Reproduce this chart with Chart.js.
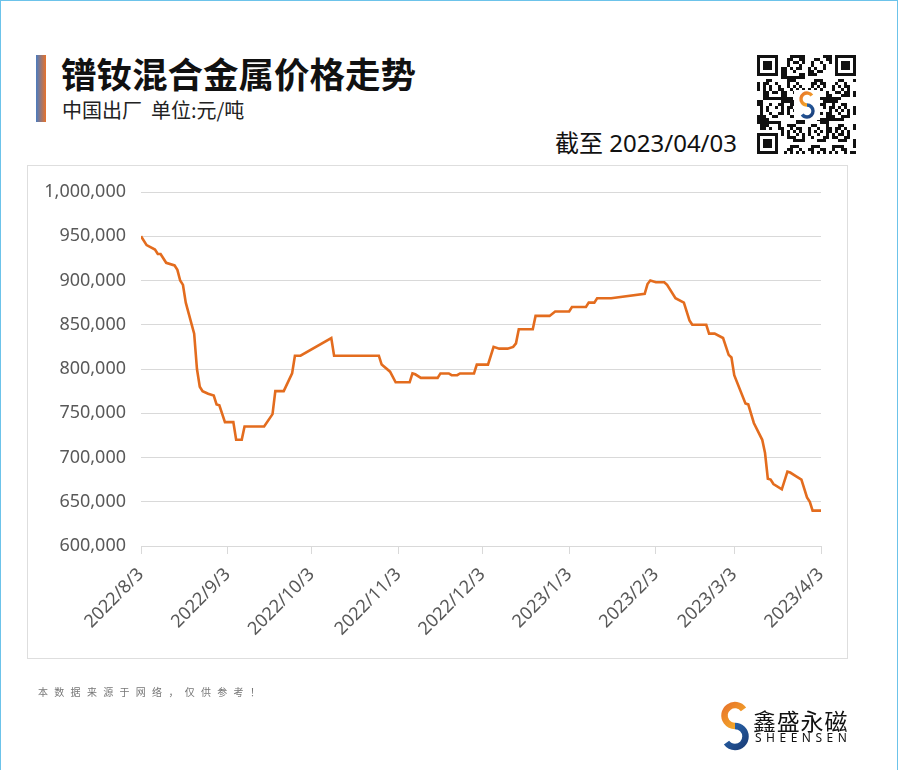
<!DOCTYPE html>
<html>
<head>
<meta charset="utf-8">
<script src="https://cdn.jsdelivr.net/npm/chart.js@4.4.0/dist/chart.umd.min.js"></script>
<style>
  html, body { margin: 0; padding: 0; background: #fff; }
  body { width: 900px; height: 770px; position: relative; overflow: hidden;
         font-family: "Noto Sans", "Noto Sans CJK SC", sans-serif; }
  .frame { position: absolute; left: 0; top: 0; width: 896px; height: 780px;
           border: 1px solid #6cc3ea; border-bottom: none; }
  .bar { position: absolute; left: 36px; top: 55px; width: 10px; height: 67px;
         background: linear-gradient(to right, #4a7cc0, #e8722a); }
  .title { position: absolute; left: 61px; top: 47px; font-size: 35.5px; font-weight: bold;
           font-family: "Noto Sans CJK SC", sans-serif; color: #111; white-space: nowrap; }
  .sub { position: absolute; left: 62px; top: 95px; font-size: 20px; color: #222;
         font-family: "Noto Sans CJK SC", sans-serif; white-space: nowrap; }
  .asof { position: absolute; right: 163px; top: 124px; font-size: 24px; color: #111; white-space: nowrap; }
  .box { position: absolute; left: 27px; top: 165px; width: 819px; height: 492px;
         border: 1px solid #dedede; }
  #chart { position: absolute; left: 0; top: 0; }
  #qr { position: absolute; left: 757px; top: 55px; }
  #logo { position: absolute; left: 718px; top: 701px; }
  .note { position: absolute; left: 38px; top: 684px; font-size: 10px; color: #777;
          letter-spacing: 6.3px; font-family: "Noto Sans CJK SC", sans-serif; white-space: nowrap; }
  .brand { position: absolute; left: 753px; top: 703px; font-size: 23px; color: #111;
           font-family: "Noto Sans CJK SC", sans-serif; white-space: nowrap; letter-spacing: 0.8px; }
  .brand-en { position: absolute; left: 755px; top: 729px; font-size: 12px; color: #111;
              letter-spacing: 4.5px; white-space: nowrap; }
</style>
</head>
<body>
<div class="frame"></div>
<div class="bar"></div>
<div class="title">镨钕混合金属价格走势</div>
<div class="sub">中国出厂&nbsp; 单位:元/吨</div>
<div class="asof">截至 2023/04/03</div>
<div class="box"></div>
<canvas id="chart" width="900" height="770"></canvas>
<canvas id="qr" width="100" height="100"></canvas>
<canvas id="logo" width="34" height="50"></canvas>
<div class="note">本数据来源于网络，仅供参考！</div>
<div class="brand">鑫盛永磁</div>
<div class="brand-en">SHEENSEN</div>
<script>
// 数据：日期与价格（元/吨）
const dates = [
  '2022-08-03','2022-08-05','2022-08-08','2022-08-09','2022-08-10','2022-08-12','2022-08-15','2022-08-16',
  '2022-08-17','2022-08-18','2022-08-19','2022-08-22','2022-08-23','2022-08-24','2022-08-25','2022-08-27',
  '2022-08-29','2022-08-30','2022-08-31',
  '2022-09-02','2022-09-05','2022-09-06','2022-09-08','2022-09-09','2022-09-16','2022-09-19','2022-09-20',
  '2022-09-23','2022-09-26','2022-09-27','2022-09-29',
  '2022-10-10','2022-10-11','2022-10-27','2022-10-28','2022-10-31',
  '2022-11-02','2022-11-07','2022-11-08','2022-11-09','2022-11-11','2022-11-17','2022-11-18','2022-11-21',
  '2022-11-22','2022-11-24','2022-11-25','2022-11-30',
  '2022-12-01','2022-12-05','2022-12-07','2022-12-09','2022-12-12','2022-12-14','2022-12-15','2022-12-16',
  '2022-12-21','2022-12-22','2022-12-27','2022-12-29',
  '2023-01-03','2023-01-04','2023-01-09','2023-01-10','2023-01-12','2023-01-13','2023-01-18','2023-01-30',
  '2023-01-31',
  '2023-02-01','2023-02-03','2023-02-06','2023-02-07','2023-02-10','2023-02-13','2023-02-15','2023-02-16',
  '2023-02-21','2023-02-22','2023-02-24','2023-02-27',
  '2023-03-01','2023-03-02','2023-03-03','2023-03-07','2023-03-08','2023-03-10','2023-03-13','2023-03-14',
  '2023-03-15','2023-03-16','2023-03-17','2023-03-20','2023-03-22','2023-03-23','2023-03-25','2023-03-27',
  '2023-03-29','2023-03-30','2023-03-31','2023-04-03'
];
const prices = [
  950000, 940000, 935000, 930000, 930000, 920000, 917000, 912000,
  900000, 895000, 875000, 840000, 800000, 780000, 775000, 772000,
  770000, 760000, 759000,
  740000, 740000, 720000, 720000, 735000, 735000, 749000, 775000,
  775000, 795000, 815000, 815000,
  835000, 815000, 815000, 805000, 797000,
  785000, 785000, 795000, 794000, 790000, 790000, 795000, 795000,
  793000, 793000, 795000, 795000,
  805000, 805000, 825000, 823000, 823000, 825000, 829000, 845000,
  845000, 860000, 860000, 865000,
  865000, 870000, 870000, 875000, 875000, 880000, 880000, 885000,
  896000,
  900000, 898000, 898000, 895000, 880000, 875000, 855000, 850000,
  850000, 840000, 840000, 835000,
  816000, 813000, 793000, 761000, 760000, 739000, 720000, 705000,
  676000, 675000, 670000, 664000, 684000, 683000, 679000, 675000,
  655000, 650000, 640000, 640000
];
const tickDates = ['2022-08-03','2022-09-03','2022-10-03','2022-11-03','2022-12-03',
                   '2023-01-03','2023-02-03','2023-03-03','2023-04-03'];
const tickLabels = ['2022/8/3','2022/9/3','2022/10/3','2022/11/3','2022/12/3',
                    '2023/1/3','2023/2/3','2023/3/3','2023/4/3'];
const yMin = 600000, yMax = 1000000, yStep = 50000;

const DAY = 86400000;
const t0 = Date.parse(dates[0] + 'T00:00:00Z');
const dayOf = d => Math.round((Date.parse(d + 'T00:00:00Z') - t0) / DAY);
const tickDays = tickDates.map(dayOf);

const points = dates.map((d, i) => ({ x: dayOf(d), y: prices[i] }));

const axisColor = '#595959';
const gridColor = '#d9d9d9';

new Chart(document.getElementById('chart').getContext('2d'), {
  type: 'line',
  data: {
    datasets: [{
      data: points,
      borderColor: '#e36c1e',
      borderWidth: 2.6,
      pointRadius: 0,
      tension: 0,
      fill: false
    }]
  },
  options: {
    responsive: false,
    animation: false,
    layout: { padding: { left: 0, right: 79, top: 192, bottom: 0 } },
    plugins: { legend: { display: false }, tooltip: { enabled: false } },
    scales: {
      x: {
        type: 'linear',
        min: tickDays[0],
        max: tickDays[tickDays.length - 1],
        afterBuildTicks: s => { s.ticks = tickDays.map(v => ({ value: v })); },
        afterFit: s => { s.height = 224; },
        grid: { drawOnChartArea: false, drawTicks: true, tickLength: 8, color: gridColor },
        border: { color: gridColor, width: 1 },
        ticks: {
          autoSkip: false,
          minRotation: 45,
          maxRotation: 45,
          padding: 10,
          color: axisColor,
          font: { family: '"Noto Sans", sans-serif', size: 18 },
          callback: v => { const i = tickDays.indexOf(v); return i >= 0 ? tickLabels[i] : ''; }
        }
      },
      y: {
        min: yMin,
        max: yMax,
        afterFit: s => { s.width = 141; },
        grid: { color: gridColor, drawTicks: false, lineWidth: 1 },
        border: { display: false },
        ticks: {
          stepSize: yStep,
          padding: 15,
          color: axisColor,
          font: { family: '"Noto Sans", sans-serif', size: 18 },
          callback: v => v.toLocaleString('en-US')
        }
      }
    }
  }
});

// S 形标志
function drawS(ctx, cx, cy, r, w) {
  ctx.lineCap = 'butt';
  ctx.lineWidth = w;
  const g1 = ctx.createLinearGradient(cx - r, cy - 2 * r, cx + r, cy);
  g1.addColorStop(0, '#e8762a');
  g1.addColorStop(1, '#f6b42a');
  ctx.strokeStyle = g1;
  ctx.beginPath();
  ctx.arc(cx, cy - r, r, -0.2 * Math.PI, 0.5 * Math.PI, true);
  ctx.stroke();
  const g2 = ctx.createLinearGradient(cx - r, cy, cx + r, cy + 2 * r);
  g2.addColorStop(0, '#2a68b0');
  g2.addColorStop(1, '#1b3f7a');
  ctx.strokeStyle = g2;
  ctx.beginPath();
  ctx.arc(cx, cy + r, r, -0.5 * Math.PI, 0.8 * Math.PI, false);
  ctx.stroke();
}

const lg = document.getElementById('logo').getContext('2d');
drawS(lg, 17, 25, 10.5, 6.5);

// 二维码装饰
const qc = document.getElementById('qr').getContext('2d');
const N = 33, m = 3;
qc.fillStyle = '#fff';
qc.fillRect(0, 0, 100, 100);
qc.fillStyle = '#111';
function finder(x, y) {
  qc.fillRect(x * m, y * m, 7 * m, 7 * m);
  qc.fillStyle = '#fff';
  qc.fillRect((x + 1) * m, (y + 1) * m, 5 * m, 5 * m);
  qc.fillStyle = '#111';
  qc.fillRect((x + 2) * m, (y + 2) * m, 3 * m, 3 * m);
}
const inFinder = (i, j) => (i < 8 && j < 8) || (i > N - 9 && j < 8) || (i < 8 && j > N - 9);
for (let i = 0; i < N; i++) {
  for (let j = 0; j < N; j++) {
    if (inFinder(i, j)) continue;
    const h = (i * 31 + j * 17 + i * j * 7 + (i ^ j) * 3) % 11;
    if (h < 5) qc.fillRect(i * m, j * m, m, m);
  }
}
finder(0, 0); finder(N - 7, 0); finder(0, N - 7);
qc.fillStyle = '#fff';
qc.fillRect(37, 35, 26, 30);
drawS(qc, 50, 50, 6, 3.4);
</script>
</body>
</html>
